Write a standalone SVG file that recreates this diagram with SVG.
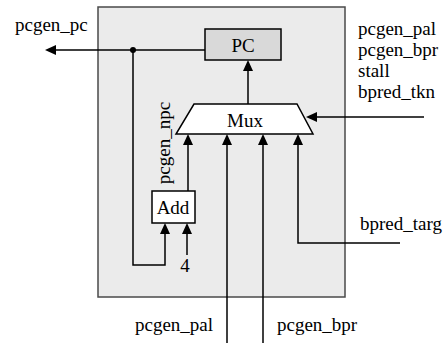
<svg xmlns="http://www.w3.org/2000/svg" width="447" height="343" viewBox="0 0 447 343">
<style>
text{font-family:"Liberation Serif","Times New Roman",serif;font-size:19px;fill:#000}
.w{stroke:#000;stroke-width:1.5;fill:none}
.ah{fill:#000;stroke:none}
.blk{stroke:#000;stroke-width:1.5}
</style>
<rect width="447" height="343" fill="#fff"/>
<g id="frame"><rect x="98" y="7" width="247" height="290" fill="#ebebeb" stroke="#4a4a4a" stroke-width="1.5"/></g>
<g id="pc"><rect class="blk" x="205" y="29" width="76" height="31" fill="#d9d9d9"/><text x="243" y="52" text-anchor="middle">PC</text></g>
<g id="mux"><polygon class="blk" points="194,104 297,104 313,134 176,134" fill="#fff"/><text x="245" y="127" text-anchor="middle">Mux</text></g>
<g id="add"><rect class="blk" x="152" y="191" width="43" height="32" fill="#fff"/><text x="173" y="214" text-anchor="middle">Add</text></g>
<g id="labels">
<text x="15" y="31">pcgen_pc</text>
<text x="358" y="35">pcgen_pal</text>
<text x="358" y="56">pcgen_bpr</text>
<text x="358" y="77">stall</text>
<text x="358" y="98">bpred_tkn</text>
<text x="360" y="230">bpred_targ</text>
<text x="135" y="331">pcgen_pal</text>
<text x="277" y="331">pcgen_bpr</text>
<text x="185" y="272" text-anchor="middle">4</text>
<text transform="translate(170,143) rotate(-90)" text-anchor="middle">pcgen_npc</text>
</g>
<g id="connectors">
<line class="w" x1="205" y1="50" x2="55" y2="50"/>
<polygon class="ah" points="45,50 56,45 56,55"/>
<circle cx="133" cy="50" r="3" fill="#000"/>
<polyline class="w" points="133,50 133,265 165,265 165,233"/>
<polygon class="ah" points="165,223 160,234 170,234"/>
<line class="w" x1="187" y1="255" x2="187" y2="233"/>
<polygon class="ah" points="187,223 182,234 192,234"/>
<line class="w" x1="188" y1="191" x2="188" y2="144"/>
<polygon class="ah" points="188,134 183,145 193,145"/>
<line class="w" x1="248" y1="104" x2="248" y2="70"/>
<polygon class="ah" points="248,60 243,71 253,71"/>
<line class="w" x1="227" y1="343" x2="227" y2="144"/>
<polygon class="ah" points="227,134 222,145 232,145"/>
<line class="w" x1="263" y1="343" x2="263" y2="144"/>
<polygon class="ah" points="263,134 258,145 268,145"/>
<polyline class="w" points="400,243 298,243 298,144"/>
<polygon class="ah" points="298,134 293,145 303,145"/>
<line class="w" x1="424" y1="117" x2="316" y2="117"/>
<polygon class="ah" points="306,117 317,112 317,122"/>
</g>
</svg>
